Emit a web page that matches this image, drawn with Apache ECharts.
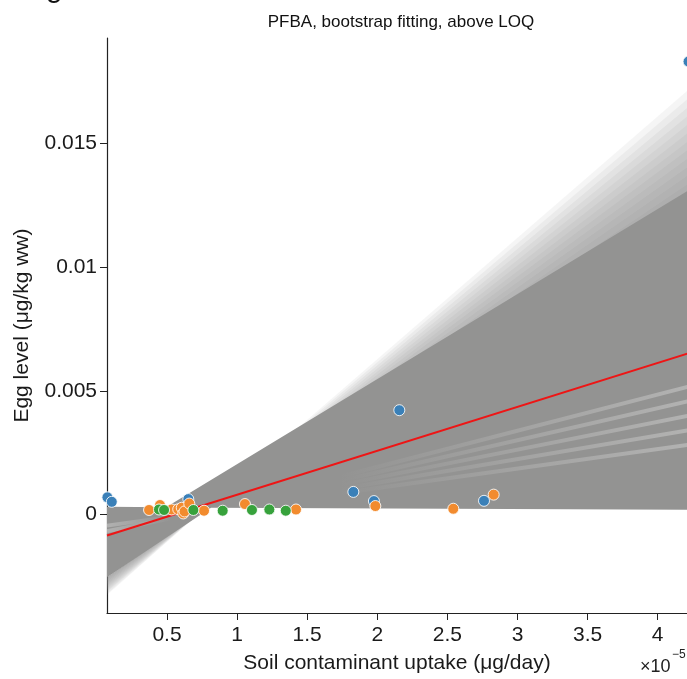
<!DOCTYPE html>
<html><head><meta charset="utf-8">
<script src="https://cdn.jsdelivr.net/npm/echarts@6/dist/echarts.min.js"></script>
<style>html,body{margin:0;padding:0;background:#fff}#c{width:687px;height:679px}</style>
</head><body><div id="c"></div>
<script>
// ---- tick labels (x in units of 1e-5 µg/day) ----
const xTicks = [0.5, 1, 1.5, 2, 2.5, 3, 3.5, 4];
const xTickLabels = ['0.5', '1', '1.5', '2', '2.5', '3', '3.5', '4'];
const yTicks = [0, 0.005, 0.01, 0.015];
const yTickLabels = ['0', '0.005', '0.01', '0.015'];

// ---- observed points ----
const blueX = [0.075, 0.106, 0.652, 1.829, 1.976, 2.157, 2.761, 4.22];
const blueY = [0.00070, 0.00052, 0.00063, 0.00092, 0.00055, 0.00422, 0.00056, 0.0183];
const orangeX = [0.372, 0.45, 0.533, 0.58, 0.605, 0.616, 0.625, 0.659, 0.764, 1.056, 1.42, 1.986, 2.542, 2.83];
const orangeY = [0.00019, 0.00039, 0.00021, 0.00022, 0.00028, 0.00005, 0.00013, 0.00045, 0.00016, 0.00043, 0.00021, 0.00035, 0.00024, 0.00081];
const greenX = [0.443, 0.479, 0.688, 0.897, 1.106, 1.23, 1.347];
const greenY = [0.00021, 0.00019, 0.00019, 0.00016, 0.00019, 0.00021, 0.00016];

// ---- fitted line (ends) ----
const fitX = [0.072, 4.4];
const fitY = [-0.00084, 0.00684];

// ---- bootstrap band: dense core outline ----
const coreX = [0.072, 0.493, 4.4, 4.4, 0.814, 0.072];
const coreY = [0.00032, 0.0003, 0.013713, 0.0002, 0.00028, -0.002526];

// ---- bootstrap band: sparse outer lines (pivot, left ends, right ends) ----
const pivotX = 0.735, pivotY = 0.00008;
const haloLeftX = 0.072, haloRightX = 4.4;
const haloLeftY = [-0.002586, -0.002646, -0.002706, -0.002767, -0.002827, -0.002887, -0.002947, -0.003007, -0.003067, -0.003127, -0.003188, -0.003248];
const haloRightY = [0.014074, 0.014435, 0.014795, 0.015156, 0.015517, 0.015878, 0.016239, 0.0166, 0.016961, 0.017321, 0.017682, 0.018043];

// ---- gaps between bootstrap lines (light streaks) ----
const streakX0 = [1.734, 1.734, 1.734, 1.734, 1.734, 0.072, 0.072];
const streakY0 = [0.000866, 0.001034, 0.001203, 0.001371, 0.00154, -0.000441, -0.000666];
const streakX1 = [4.4, 4.4, 4.4, 4.4, 4.4, 0.521, 0.521];
const streakY1 = [0.002967, 0.003585, 0.004202, 0.00482, 0.005437, -0.000088, -0.00016];

const FONT = '"Liberation Sans", Arial, sans-serif';
const chart = echarts.init(document.getElementById('c'), null, {renderer: 'canvas'});

const series = [];
// outer sparse lines as stacked translucent wedges
series.push({
  type: 'custom', clip: true, z: 1, silent: true,
  data: haloLeftY.map((v, i) => [i]),
  dimensions: ['i'], encode: {},
  renderItem: function (params, api) {
    const i = params.dataIndex;
    const p = api.coord([pivotX, pivotY]);
    const leftInner = api.coord([haloLeftX, coreY[5]]);
    const leftOuter = api.coord([haloLeftX, haloLeftY[i]]);
    const rightInner = api.coord([haloRightX, coreY[2]]);
    const rightOuter = api.coord([haloRightX, haloRightY[i]]);
    return {
      type: 'group', children: [
        {type: 'polygon', shape: {points: [p, leftInner, leftOuter]}, style: {fill: 'rgba(140,140,140,0.085)'}},
        {type: 'polygon', shape: {points: [p, rightInner, rightOuter]}, style: {fill: 'rgba(140,140,140,0.085)'}}
      ]
    };
  }
});
// dense core
series.push({
  type: 'custom', clip: true, z: 2, silent: true,
  data: [[0]], dimensions: ['i'], encode: {},
  renderItem: function (params, api) {
    const pts = coreX.map((x, k) => api.coord([x, coreY[k]]));
    return {type: 'polygon', shape: {points: pts}, style: {fill: '#939392'}};
  }
});
// streaks
streakX0.forEach((x0, k) => {
  const fromLeft = x0 < 1;
  series.push({
    type: 'line', z: 3, silent: true, symbol: 'none', clip: true,
    data: [[x0, streakY0[k]], [streakX1[k], streakY1[k]]],
    lineStyle: {
      width: 4,
      color: new echarts.graphic.LinearGradient(0, 0, 1, 0, fromLeft ?
        [{offset: 0, color: 'rgba(235,235,235,0.35)'}, {offset: 1, color: 'rgba(235,235,235,0)'}] :
        [{offset: 0, color: 'rgba(235,235,235,0)'}, {offset: 1, color: 'rgba(235,235,235,0.38)'}])
    }
  });
});
// fitted line
series.push({
  type: 'line', z: 4, silent: true, symbol: 'none', clip: true,
  data: fitX.map((x, k) => [x, fitY[k]]),
  lineStyle: {color: '#ee1515', width: 2}
});
// points
[[blueX, blueY, '#3a80b8'], [orangeX, orangeY, '#f28b2e'], [greenX, greenY, '#37a23c']].forEach(([xs, ys, col]) => {
  series.push({
    type: 'scatter', z: 5, clip: false, symbolSize: 11,
    data: xs.map((x, k) => [x, ys[k]]),
    itemStyle: {color: col, borderColor: 'rgba(255,255,255,0.85)', borderWidth: 1, opacity: 1}
  });
});

chart.setOption({
  animation: false,
  backgroundColor: '#fff',
  title: {
    text: 'PFBA, bootstrap fitting, above LOQ', left: 396, top: 9, textAlign: 'center',
    textStyle: {fontFamily: FONT, fontSize: 17, fontWeight: 'normal', color: '#111'}
  },
  grid: {left: 107, top: 38, bottom: 62, right: 0, containLabel: false},
  xAxis: {
    type: 'value', min: 0.072, max: 4.209,
    name: 'Soil contaminant uptake (μg/day)', nameLocation: 'middle', nameGap: 40,
    nameTextStyle: {fontFamily: FONT, fontSize: 21, color: '#1a1a1a'},
    axisLine: {show: true, onZero: false, lineStyle: {color: '#222', width: 1.2}},
    axisTick: {show: true, length: 7, inside: false, customValues: xTicks, lineStyle: {color: '#222'}},
    axisLabel: {customValues: xTicks, margin: 12, fontFamily: FONT, fontSize: 21, color: '#1a1a1a',
      formatter: v => xTickLabels[xTicks.indexOf(v)] ?? ''},
    splitLine: {show: false}
  },
  yAxis: {
    type: 'value', min: -0.00397, max: 0.01925,
    name: 'Egg level (μg/kg ww)', nameLocation: 'middle', nameGap: 74,
    nameTextStyle: {fontFamily: FONT, fontSize: 21, color: '#1a1a1a'},
    axisLine: {show: true, onZero: false, lineStyle: {color: '#222', width: 1.2}},
    axisTick: {show: true, length: 7, inside: false, customValues: yTicks, lineStyle: {color: '#222'}},
    axisLabel: {customValues: yTicks, margin: 10, fontFamily: FONT, fontSize: 21, color: '#1a1a1a',
      formatter: v => yTickLabels[yTicks.indexOf(v)] ?? ''},
    splitLine: {show: false}
  },
  graphic: [
    {type: 'text', left: 640, top: 658, style: {text: '×10', fontFamily: FONT, fontSize: 18, fill: '#222'}},
    {type: 'text', left: 672, top: 649, style: {text: '−5', fontFamily: FONT, fontSize: 12, fill: '#222'}},
    {type: 'text', left: 46, top: -26, style: {text: 'g', fontFamily: FONT, fontSize: 30, fill: '#111'}}
  ],
  series: series
});
</script></body></html>
